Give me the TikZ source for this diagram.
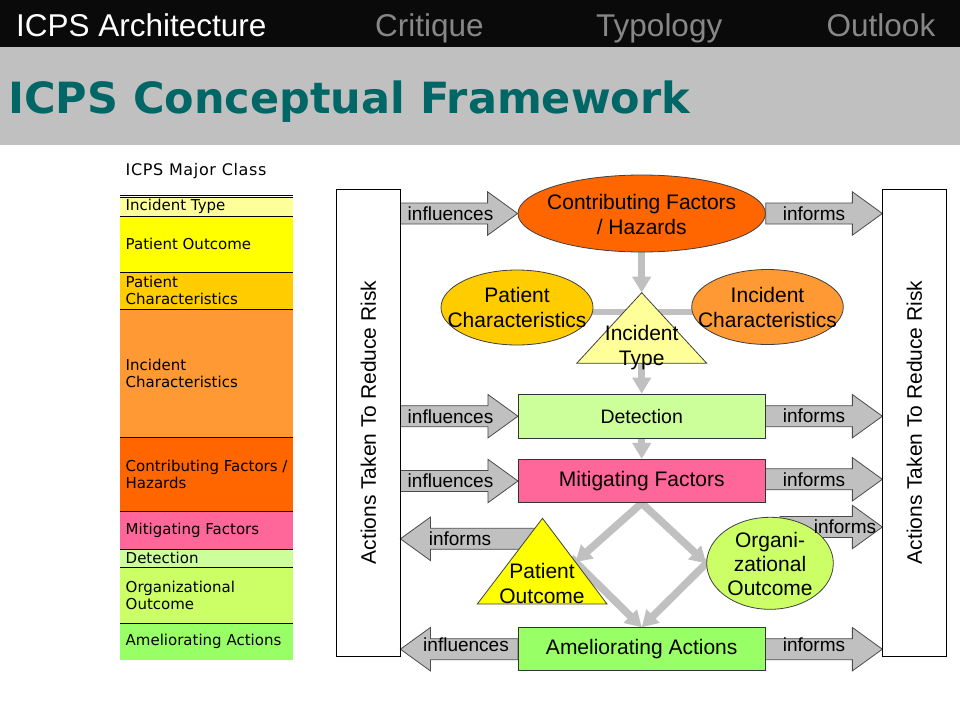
\documentclass[tikz,border=0pt]{standalone}
\usepackage{fontspec}
\usepackage{graphicx}
\setmainfont{Liberation Sans}
\newfontfamily\dvfont{DejaVu Sans}
\newfontfamily\dvspaced{DejaVu Sans}[LetterSpace=4]
\usetikzlibrary{shapes.geometric,arrows.meta,calc}
\pgfdeclarelayer{back}
\pgfdeclarelayer{bg}
\pgfsetlayers{back,bg,main}
\definecolor{hdrblack}{RGB}{10,10,10}
\definecolor{navgrey}{RGB}{135,135,135}
\definecolor{bandgrey}{RGB}{192,192,192}
\definecolor{titleteal}{RGB}{0,102,102}
\definecolor{arrowgrey}{RGB}{192,192,192}
\definecolor{conngrey}{RGB}{192,192,192}
\definecolor{cIT}{RGB}{255,255,153}
\definecolor{cPO}{RGB}{255,255,0}
\definecolor{cPC}{RGB}{255,204,0}
\definecolor{cIC}{RGB}{255,153,51}
\definecolor{cCF}{RGB}{255,102,0}
\definecolor{cMF}{RGB}{255,102,153}
\definecolor{cDT}{RGB}{204,255,153}
\definecolor{cOO}{RGB}{204,255,102}
\definecolor{cAA}{RGB}{153,255,102}
\newcommand\fsz[2]{\fontsize{#1pt}{#2pt}\selectfont}
\newcommand\tabrow[5]{%
  \fill[#4] (120,#2) rectangle (293,#3);
  \node[tabtext] (#1) at (125.5,{(#2+#3)/2}) {#5};
}
\begin{document}
\begin{tikzpicture}[x=1pt,y=-1pt,
  greyconn/.style={draw=conngrey, line width=7.5pt},
  gtip/.style={-{Triangle[width=18pt,length=16pt]}},
  barrow/.style={draw=black!70, fill=arrowgrey, line width=0.8pt, line join=miter},
  rarr/.style={barrow, to path={([yshift=10.5pt]\tikztostart) -- ([xshift=-30pt,yshift=10.5pt]\tikztotarget) -- ([xshift=-30pt,yshift=21.7pt]\tikztotarget) -- (\tikztotarget) -- ([xshift=-30pt,yshift=-21.7pt]\tikztotarget) -- ([xshift=-30pt,yshift=-10.5pt]\tikztotarget) -- ([yshift=-10.5pt]\tikztostart) -- cycle}},
  larr/.style={barrow, to path={([yshift=10.5pt]\tikztostart) -- ([xshift=30pt,yshift=10.5pt]\tikztotarget) -- ([xshift=30pt,yshift=21.7pt]\tikztotarget) -- (\tikztotarget) -- ([xshift=30pt,yshift=-21.7pt]\tikztotarget) -- ([xshift=30pt,yshift=-10.5pt]\tikztotarget) -- ([yshift=-10.5pt]\tikztostart) -- cycle}},
  arrlabel/.style={font=\fsz{19}{23}, inner sep=0},
  mainlabel/.style={font=\fsz{21}{25}, align=center, inner sep=0},
  boxnode/.style={draw=black!80, line width=0.8pt, minimum width=246.7pt, minimum height=43.5pt, inner sep=0, font=\fsz{21}{25}},
  ellnode/.style={ellipse, draw=black!75, line width=0.8pt, inner sep=0},
  trinode/.style={draw=black!75, line width=0.8pt, line join=miter},
  sidebox/.style={draw=black, line width=0.8pt, inner sep=0, minimum height=467pt},
  sidetext/.style={rotate=90, font=\fsz{21}{25}, inner sep=0},
  tabtext/.style={anchor=west, inner sep=0, align=left, font=\dvfont\fsz{15}{17}},
  hdrtext/.style={anchor=base west, inner sep=0, font=\fsz{31.5}{36}}]
\useasboundingbox (0,0) rectangle (960,720);
\begin{pgfonlayer}{back}
\fill[white] (0,0) rectangle (960,720);
\end{pgfonlayer}
% header
\fill[hdrblack] (0,0) rectangle (960,47);
\fill[bandgrey] (0,47) rectangle (960,145);
\node[hdrtext, text=white] (h1) at (16,36) {ICPS Architecture};
\node[hdrtext, text=navgrey] (h2) at (375,36) {Critique};
\node[hdrtext, text=navgrey] (h3) at (596,36) {Typology};
\node[hdrtext, text=navgrey] (h4) at (826.5,36) {Outlook};
\node[anchor=base west, inner sep=0, text=titleteal, font=\dvfont\bfseries\fsz{43}{48}] (ttl) at (8,113) {\scalebox{1.0}[1]{ICPS Conceptual Framework}};
% table
\node[anchor=west, inner sep=0, font=\dvspaced\fsz{16}{20}] (mc) at (125.5,171) {ICPS Major Class};
\tabrow{t1}{197.5}{216}{cIT}{Incident Type}
\tabrow{t2}{216}{272}{cPO}{Patient Outcome}
\tabrow{t3}{272}{309.3}{cPC}{Patient\\Characteristics}
\tabrow{t4}{309.3}{437.7}{cIC}{Incident\\Characteristics}
\tabrow{t5}{437.7}{511.7}{cCF}{Contributing Factors /\\Hazards}
\tabrow{t6}{511.7}{549}{cMF}{Mitigating Factors}
\tabrow{t7}{549}{567.3}{cDT}{Detection}
\tabrow{t8}{567.3}{623.3}{cOO}{Organizational\\Outcome}
\tabrow{t9}{623.3}{660}{cAA}{Ameliorating Actions}
\foreach \yy in {195.5,197.5,216,272,309.3,437.7,511.7,549,567.3,623.3}
  \draw[line width=0.8pt] (120,\yy) -- (293,\yy);
% side boxes
\node[sidebox, minimum width=63.5pt] (lbox) at (368.25,422.5) {};
\node[sidetext] (ltext) at (lbox.center) {Actions Taken To Reduce Risk};
\node[sidebox, minimum width=63.3pt] (rbox) at (914.4,422.5) {};
\node[sidetext] (rtext) at (rbox.center) {Actions Taken To Reduce Risk};
% main shapes
\node[ellnode, fill=cCF, minimum width=247.4pt, minimum height=77pt] (cf) at (641.7,213.5) {};
\node[mainlabel] (cft) at (641.7,214.5) {Contributing Factors\\/ Hazards};
\node[ellnode, fill=cPC, minimum width=152pt, minimum height=75pt] (pc) at (517,307.5) {};
\node[mainlabel] (pct) at (517,307.5) {Patient\\Characteristics};
\node[ellnode, fill=cIC, minimum width=151.6pt, minimum height=75pt] (ic) at (767.5,307) {};
\node[mainlabel] (ict) at (767.5,307.5) {Incident\\Characteristics};
\coordinate (itA) at (641.7,292.7);
\coordinate (itL) at (576.7,363.3);
\coordinate (itR) at (706.7,363.3);
\coordinate (itM) at (641.7,340);
\coordinate (itc) at (641.7,311.7);
\filldraw[trinode, fill=cIT] (itA) -- (itR) -- (itL) -- cycle;
\node[mainlabel] (itt) at (641.7,347.5) {Incident\\Type};
\node[boxnode, fill=cDT, minimum height=44.3pt, font=\fsz{19.5}{24}] (det) at (641.7,416.2) {Detection};
\node[boxnode, fill=cMF, minimum height=43.4pt] (mit) at (641.7,481) {Mitigating Factors};
\coordinate (poA) at (542.5,518.3);
\coordinate (poL) at (477.3,604);
\coordinate (poR) at (607,604);
\filldraw[trinode, fill=cPO] (poA) -- (poR) -- (poL) -- cycle;
\node[mainlabel, align=center] (pot) at (542,583.7) {Patient\\Outcome};
\node[ellnode, fill=cOO, minimum width=126.6pt, minimum height=92pt] (org) at (770,563.3) {};
\node[font=\fsz{21}{24}, align=center, inner sep=0] (orgt) at (770,564) {Organi-\\zational\\Outcome};
\node[boxnode, fill=cAA, minimum height=43pt] (aa) at (641.7,649.2) {Ameliorating Actions};
% helper coordinates
\coordinate (porp) at ($(poA)!0.51!(poR)$);
\coordinate (porpin) at ($(porp)!-6pt!(aa.north)$);
\coordinate (orgin) at ($(org.west)!-6pt!(aa.north)$);
\coordinate (poarr) at (550,538.8);
\coordinate (orgarr) at (780,527);
\coordinate (mitr) at (765,479.3);
\begin{pgfonlayer}{bg}
\draw[greyconn, gtip] (cf.south) -- (itA);
\draw[greyconn, gtip] (itM) -- (det.north);
\draw[greyconn, gtip] (det.south) -- (mit.north);
\draw[greyconn, line width=6pt] (pc.center |- itc) -- (ic.center |- itc);
\draw[greyconn, line join=miter, {Triangle[width=18pt,length=16pt]}-{Triangle[width=18pt,length=16pt]}] (porp) -- (mit.south) -- (org.west);
\draw[greyconn, gtip] (porpin) -- (aa.north);
\draw[greyconn, gtip] (orgin) -- (aa.north);
\path[rarr] (lbox.east |- cf.west) to (cf.west);
\path[rarr] (cf.east) to (rbox.west |- cf.east);
\path[rarr] (lbox.east |- det.west) to (det.west);
\path[rarr] (det.east) to (rbox.west |- det.east);
\path[rarr] (lbox.east |- mit.west) to (mit.west);
\path[rarr] (mit.east |- mitr) to (rbox.west |- mitr);
\path[rarr] (orgarr) to (rbox.west |- orgarr);
\path[larr] (poarr) to (lbox.east |- poarr);
\path[larr] (aa.west) to (lbox.east |- aa.west);
\path[rarr] (aa.east) to (rbox.west |- aa.east);
\end{pgfonlayer}
% arrow labels
\node[arrlabel] (inf1) at (450.5,213.3) {influences};
\node[arrlabel] (inm1) at (814,213.3) {informs};
\node[arrlabel] (inf2) at (450.5,416.5) {influences};
\node[arrlabel] (inm2) at (814,416.2) {informs};
\node[arrlabel] (inf3) at (450.5,481) {influences};
\node[arrlabel] (inm3) at (814,479.5) {informs};
\node[arrlabel] (inm4) at (845,527) {informs};
\node[arrlabel] (inm5) at (460,538.5) {informs};
\node[arrlabel] (inf4) at (466,644.3) {influences};
\node[arrlabel] (inm6) at (814,644.5) {informs};
\end{tikzpicture}
\end{document}
